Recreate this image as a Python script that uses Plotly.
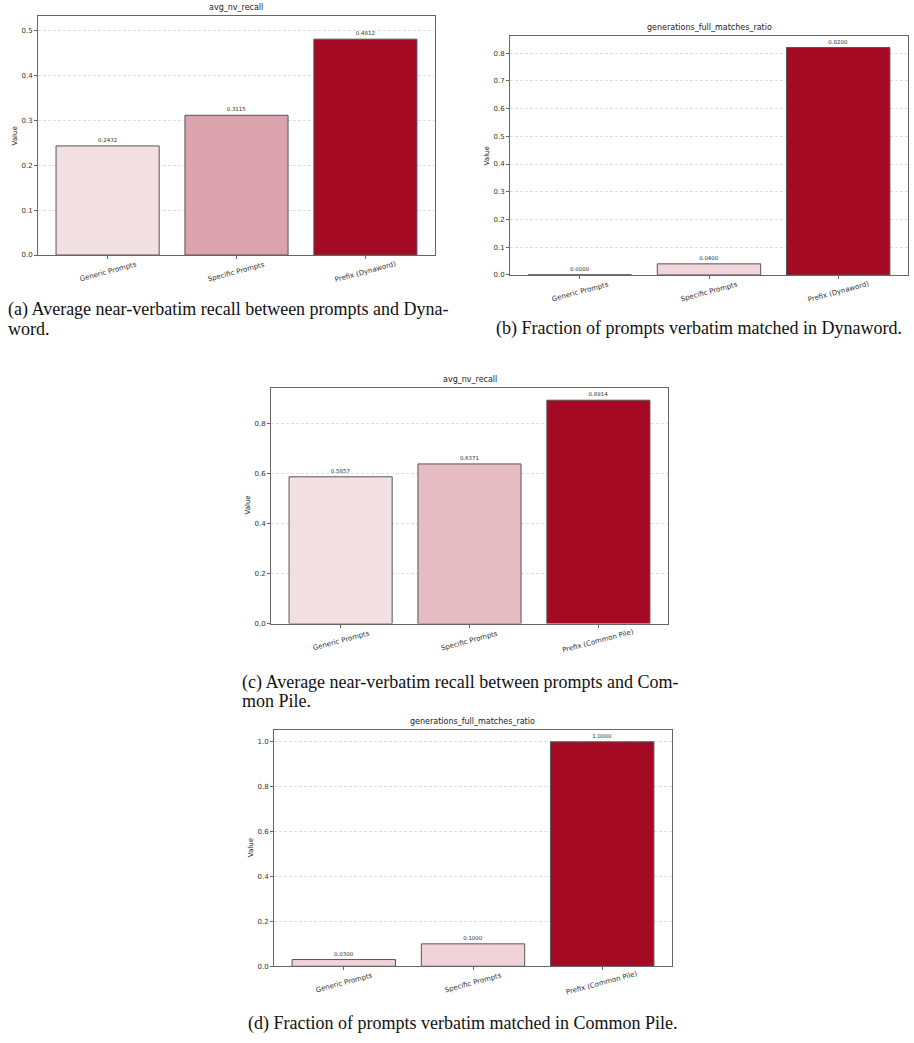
import plotly.graph_objects as go

W, H = 914, 1043

cats_dyn = ["Generic Prompts", "Specific Prompts", "Prefix (Dynaword)"]
cats_cp = ["Generic Prompts", "Specific Prompts", "Prefix (Common Pile)"]

recall_dyn = [0.2432, 0.3115, 0.4812]
ratio_dyn = [0.0000, 0.0400, 0.8200]
recall_cp = [0.5857, 0.6371, 0.8914]
ratio_cp = [0.0300, 0.1000, 1.0000]

colors_a = ["#f2e0e3", "#dba3ae", "#a50a24"]
colors_b = ["#f3e4e6", "#f0d5da", "#a50a24"]
colors_c = ["#f2e0e2", "#e5bcc3", "#a50a24"]
colors_d = ["#efd3d8", "#efd3d8", "#a50a24"]

titles = ["avg_nv_recall", "generations_full_matches_ratio", "avg_nv_recall", "generations_full_matches_ratio"]
captions = [
    ["(a) Average near-verbatim recall between prompts and Dyna-", "word."],
    ["(b) Fraction of prompts verbatim matched in Dynaword."],
    ["(c) Average near-verbatim recall between prompts and Com-", "mon Pile."],
    ["(d) Fraction of prompts verbatim matched in Common Pile."],
]

# pixel boxes: (left, right, top, bottom)
boxes = [(38, 435, 16, 256), (510, 908, 36, 276), (271, 668, 389, 626), (274, 672, 733, 970)]
yranges = [[0, 0.533], [0, 0.862], [0, 0.942], [0, 1.052]]
yticks = [[0, 0.1, 0.2, 0.3, 0.4, 0.5],
          [0, 0.1, 0.2, 0.3, 0.4, 0.5, 0.6, 0.7, 0.8],
          [0, 0.2, 0.4, 0.6, 0.8],
          [0, 0.2, 0.4, 0.6, 0.8, 1.0]]

data = [(cats_dyn, recall_dyn, colors_a), (cats_dyn, ratio_dyn, colors_b),
        (cats_cp, recall_cp, colors_c), (cats_cp, ratio_cp, colors_d)]

fig = go.Figure()
layout = dict(width=W, height=H, margin=dict(l=0, r=0, t=0, b=0),
              paper_bgcolor="white", plot_bgcolor="white", showlegend=False,
              font=dict(family="DejaVu Sans", color="#333"))
annotations = []
FR = "#666"
for i, ((cats, vals, cols), (l, r, t, b)) in enumerate(zip(data, boxes)):
    n = "" if i == 0 else str(i + 1)
    fig.add_trace(go.Bar(
        x=cats, y=vals, marker=dict(color=cols, line=dict(color="#555", width=1)),
        width=0.8, text=[f"{v:.4f}" for v in vals], textposition="outside",
        textfont=dict(size=5.5, color="#333"), cliponaxis=False,
        xaxis="x" + n, yaxis="y" + n))
    layout["xaxis" + n] = dict(
        domain=[l / W, r / W], anchor="y" + n, range=[-0.54, 2.54],
        showline=True, linecolor=FR, linewidth=1, mirror=True,
        ticks="outside", ticklen=3, tickcolor=FR, showticklabels=False,
        showgrid=False, fixedrange=True)
    layout["yaxis" + n] = dict(
        domain=[1 - b / H, 1 - t / H], anchor="x" + n, range=yranges[i],
        tickvals=yticks[i], ticktext=[f"{v:.1f}" for v in yticks[i]],
        showline=True, linecolor=FR, linewidth=1, mirror=True,
        ticks="outside", ticklen=3, tickcolor=FR,
        tickfont=dict(size=7, color="#333"),
        showgrid=True, gridcolor="#dedede", griddash="3px,2px", gridwidth=0.6,
        zeroline=False, fixedrange=True)
    for c in cats:
        annotations.append(dict(text=c, x=c, y=1 - (b + 17) / H, xref="x" + n, yref="paper",
                                xanchor="center", yanchor="middle", textangle=-15,
                                showarrow=False, font=dict(size=7, color="#333")))
    annotations.append(dict(text=titles[i], x=(l + r) / 2 / W, y=1 - (t - 2) / H,
                            xref="paper", yref="paper", xanchor="center", yanchor="bottom",
                            showarrow=False, font=dict(size=8, color="#222")))
    annotations.append(dict(text="Value", x=(l - 23) / W, y=1 - (t + b) / 2 / H,
                            xref="paper", yref="paper", xanchor="center", yanchor="middle",
                            textangle=-90, showarrow=False, font=dict(size=7, color="#222")))

# caption first-line centre (x_left, y_centre)
cap_pos = [(6, 311), (494, 330), (240, 685), (246, 1027)]
for (x, y), lines in zip(cap_pos, captions):
    for k, line in enumerate(lines):
        annotations.append(dict(text=line, x=x / W, y=1 - (y + 19 * k) / H, xref="paper", yref="paper",
                                xanchor="left", yanchor="middle", align="left", showarrow=False,
                                font=dict(family="Liberation Serif", size=18, color="#111")))
layout["annotations"] = annotations
fig.update_layout(**layout)
fig.write_html("out.html")
